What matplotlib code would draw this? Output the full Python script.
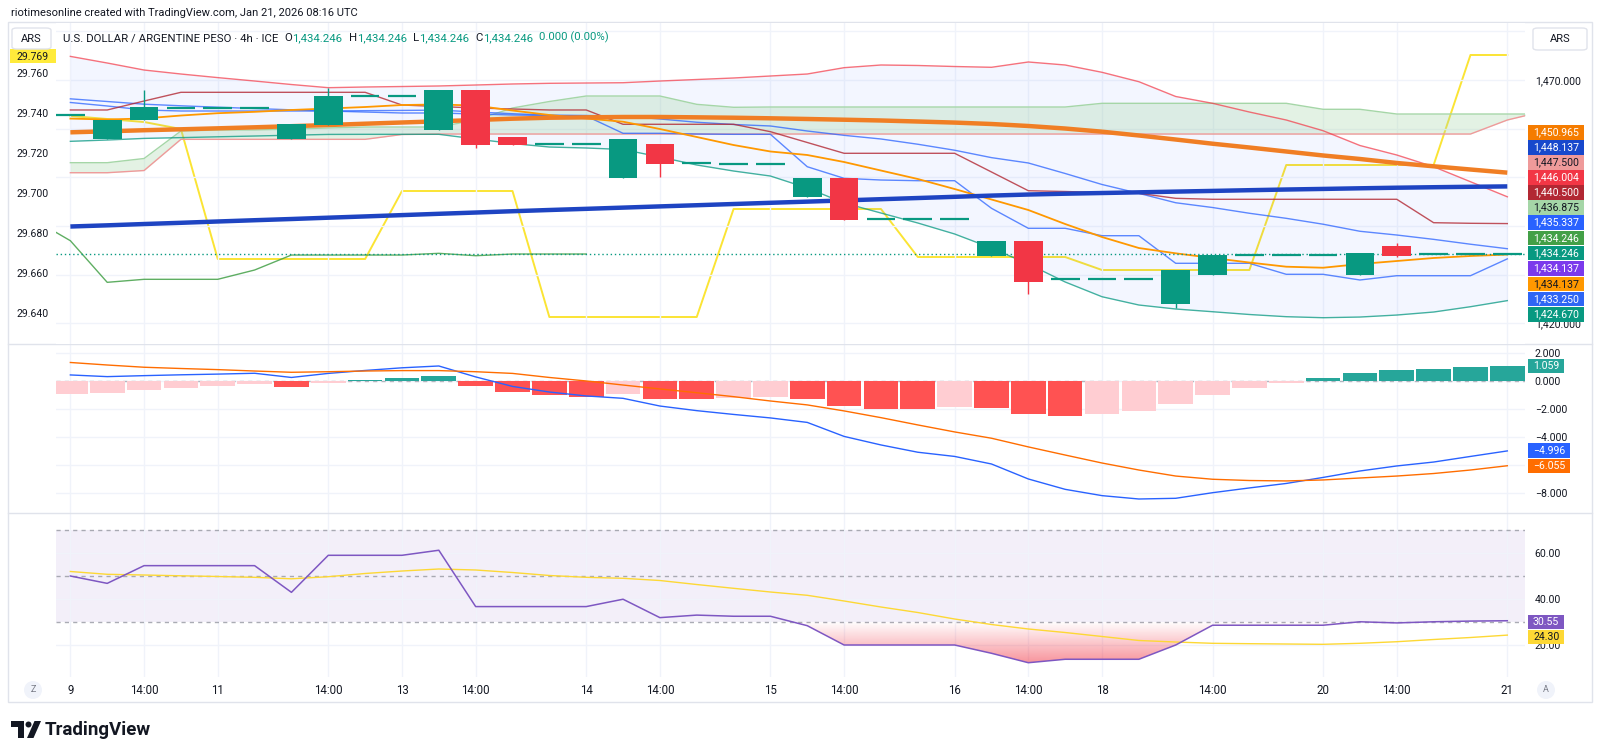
import numpy as np
import matplotlib
matplotlib.use("Agg")
import matplotlib.pyplot as plt
from matplotlib.patches import Rectangle, FancyBboxPatch, Ellipse, Polygon
from matplotlib.lines import Line2D
from matplotlib.ticker import FuncFormatter
import matplotlib.path as mpath
from matplotlib.colors import to_rgb

plt.rcParams['font.family'] = ['Roboto', 'DejaVu Sans']

# ---------------- data ----------------
bar_index = list(range(40))
time_tick_pos = [0, 2, 4, 7, 9, 11, 14, 16, 19, 21, 24, 26, 28, 31, 34, 36, 39]
time_tick_labels = ["9", "14:00", "11", "14:00", "13", "14:00", "14", "14:00", "15",
                    "14:00", "16", "14:00", "18", "14:00", "20", "14:00", "21"]

opens = [1462.87, 1457.81, 1461.72, 1464.31, 1464.31, 1464.31, 1457.81, 1460.75, 1466.71, 1466.71,
         1459.73, 1467.88, 1458.29, 1456.79, 1456.79, 1449.80, 1456.79, 1453.00, 1452.74, 1452.74,
         1445.96, 1449.86, 1441.38, 1441.38, 1441.38, 1433.90, 1436.98, 1429.05, 1429.05, 1429.05,
         1424.04, 1429.87, 1434.04, 1434.04, 1434.04, 1429.87, 1435.89, 1434.246, 1434.246, 1434.246]
highs = [1462.87, 1461.78, 1467.94, 1464.31, 1464.31, 1464.31, 1460.90, 1468.42, 1466.71, 1466.71,
         1467.88, 1467.88, 1458.29, 1456.79, 1456.79, 1457.88, 1456.79, 1453.00, 1452.74, 1452.74,
         1449.86, 1449.86, 1441.38, 1441.38, 1441.38, 1436.98, 1436.98, 1429.05, 1429.05, 1429.05,
         1430.96, 1434.04, 1434.04, 1434.04, 1434.04, 1434.39, 1436.57, 1434.246, 1434.246, 1434.246]
lows = [1462.87, 1457.81, 1461.72, 1464.31, 1464.31, 1464.31, 1457.81, 1460.75, 1466.71, 1466.71,
        1459.73, 1455.97, 1456.71, 1456.79, 1456.79, 1449.80, 1450.01, 1453.00, 1452.74, 1452.74,
        1445.96, 1441.30, 1441.38, 1441.38, 1441.38, 1433.90, 1426.03, 1429.05, 1429.05, 1429.05,
        1423.15, 1429.87, 1434.04, 1434.04, 1434.04, 1429.87, 1433.63, 1434.246, 1434.246, 1434.246]
closes = [1462.87, 1461.78, 1464.39, 1464.31, 1464.31, 1464.31, 1460.90, 1466.77, 1466.71, 1466.71,
          1467.88, 1456.64, 1456.71, 1456.79, 1456.79, 1457.88, 1452.68, 1453.00, 1452.74, 1452.74,
          1449.86, 1441.30, 1441.38, 1441.38, 1441.38, 1436.98, 1428.43, 1429.05, 1429.05, 1429.05,
          1430.96, 1434.04, 1434.04, 1434.04, 1434.04, 1434.39, 1433.90, 1434.246, 1434.246, 1434.246]

ma_long = [1459.25, 1459.46, 1459.68, 1459.87, 1460.07, 1460.28, 1460.51, 1460.75, 1461.02, 1461.27,
           1461.51, 1461.78, 1462.05, 1462.25, 1462.33, 1462.40, 1462.40, 1462.33, 1462.25, 1462.13,
           1461.99, 1461.84, 1461.68, 1461.47, 1461.25, 1460.96, 1460.55, 1460.03, 1459.38, 1458.60,
           1457.77, 1456.91, 1456.13, 1455.31, 1454.49, 1453.77, 1452.95, 1452.27, 1451.61, 1450.965]
ma_blue = [1439.90, 1440.14, 1440.41, 1440.66, 1440.93, 1441.19, 1441.44, 1441.71, 1441.97, 1442.24,
           1442.51, 1442.77, 1443.04, 1443.29, 1443.53, 1443.78, 1444.03, 1444.27, 1444.52, 1444.77,
           1445.01, 1445.26, 1445.51, 1445.75, 1446.00, 1446.25, 1446.47, 1446.64, 1446.78, 1446.92,
           1447.07, 1447.21, 1447.36, 1447.50, 1447.62, 1447.75, 1447.87, 1447.97, 1448.06, 1448.137]
ma_thin = [1462.07, 1461.88, 1462.10, 1462.70, 1463.18, 1463.46, 1463.84, 1464.14, 1464.45, 1464.86,
           1464.97, 1464.75, 1463.73, 1462.81, 1462.09, 1461.43, 1459.93, 1458.29, 1456.64, 1455.31,
           1454.59, 1453.15, 1451.40, 1449.66, 1447.60, 1445.45, 1443.29, 1440.41, 1437.74, 1435.48,
           1434.39, 1433.43, 1432.50, 1431.64, 1431.43, 1432.19, 1432.81, 1433.43, 1433.84, 1434.137]
bb_upper = [1474.85, 1473.49, 1472.05, 1471.23, 1470.49, 1469.79, 1469.07, 1468.42, 1468.56, 1468.66,
            1468.77, 1468.97, 1469.18, 1469.32, 1469.38, 1469.44, 1469.79, 1470.10, 1470.41, 1470.82,
            1471.23, 1472.53, 1473.08, 1472.98, 1472.77, 1472.61, 1473.70, 1473.08, 1471.58, 1469.65,
            1466.61, 1465.21, 1463.42, 1461.78, 1459.58, 1456.54, 1454.59, 1452.18, 1449.10, 1446.004]
bb_lower = [1457.40, 1457.67, 1458.00, 1458.16, 1458.33, 1458.49, 1458.66, 1458.82, 1458.84, 1458.84,
            1458.84, 1457.88, 1456.95, 1456.23, 1456.03, 1455.72, 1454.18, 1452.54, 1451.30, 1450.27,
            1447.81, 1444.73, 1442.67, 1440.62, 1438.36, 1435.48, 1432.19, 1428.50, 1425.47, 1423.77,
            1422.95, 1422.39, 1421.82, 1421.37, 1421.16, 1421.30, 1421.71, 1422.33, 1423.42, 1424.670]
bb_basis = [1466.13, 1465.58, 1465.03, 1464.70, 1464.41, 1464.14, 1463.87, 1463.62, 1463.70, 1463.75,
            1463.81, 1463.43, 1463.07, 1462.78, 1462.71, 1462.58, 1461.99, 1461.32, 1460.86, 1460.55,
            1459.52, 1458.63, 1457.88, 1456.80, 1455.57, 1454.05, 1452.95, 1450.79, 1448.53, 1446.71,
            1444.78, 1443.80, 1442.62, 1441.58, 1440.37, 1438.92, 1438.15, 1437.26, 1436.26, 1435.337]
tenkan = [1465.38, 1464.66, 1463.84, 1463.63, 1463.63, 1463.63, 1463.63, 1463.63, 1463.42, 1463.22,
          1463.22, 1463.01, 1462.81, 1462.70, 1462.60, 1459.05, 1459.05, 1458.90, 1458.84, 1458.84,
          1452.18, 1449.80, 1449.45, 1449.31, 1449.31, 1443.64, 1439.53, 1439.53, 1438.01, 1438.01,
          1432.34, 1432.34, 1432.34, 1430.08, 1430.08, 1428.91, 1429.79, 1429.79, 1429.79, 1433.25]
kijun = [1463.84, 1463.84, 1465.68, 1467.47, 1467.47, 1467.47, 1467.47, 1467.47, 1467.47, 1464.86,
         1464.55, 1464.25, 1464.04, 1463.84, 1463.84, 1460.90, 1460.90, 1460.90, 1460.90, 1459.38,
         1457.16, 1454.94, 1454.94, 1454.94, 1454.94, 1451.10, 1447.25, 1447.09, 1446.88, 1446.72,
         1445.69, 1445.49, 1445.49, 1445.49, 1445.49, 1445.49, 1445.49, 1440.68, 1440.56, 1440.50]
span_a = [1453.01, 1453.01, 1453.87, 1459.52, 1459.73, 1459.73, 1459.93, 1460.14, 1460.34, 1460.34,
          1460.34, 1461.78, 1464.25, 1465.58, 1466.71, 1466.71, 1466.71, 1465.00, 1464.39, 1464.45,
          1464.45, 1464.45, 1464.45, 1464.45, 1464.45, 1464.45, 1464.45, 1464.45, 1465.21, 1465.21,
          1465.21, 1465.21, 1465.21, 1465.21, 1463.98, 1463.98, 1463.01, 1463.01, 1463.01, 1463.01,
          1463.01]
span_b = [1450.95, 1450.95, 1451.40, 1457.81, 1457.81, 1457.81, 1457.81, 1457.81, 1457.81, 1458.80,
          1458.90, 1458.90, 1458.90, 1458.90, 1458.90, 1458.90, 1458.90, 1458.90, 1458.90, 1458.90,
          1458.90, 1458.90, 1458.90, 1458.90, 1458.90, 1458.90, 1458.90, 1458.90, 1458.90, 1458.90,
          1458.90, 1458.90, 1458.90, 1458.90, 1458.90, 1458.90, 1458.90, 1458.90, 1458.90, 1461.78,
          1463.60]
span_a_future_last = 1436.875
span_b_future_last = 1447.500
purple_last = 1434.137
chikou_shift = 25

# overlay on the left scale (yellow)
overlay = [29.7385, 29.737, 29.7355, 29.732, 29.667, 29.667, 29.667, 29.667, 29.667, 29.701,
           29.701, 29.701, 29.701, 29.638, 29.638, 29.638, 29.638, 29.638, 29.692, 29.692,
           29.692, 29.692, 29.692, 29.668, 29.668, 29.668, 29.668, 29.668, 29.6615, 29.6615,
           29.6615, 29.6615, 29.6615, 29.714, 29.714, 29.714, 29.714, 29.714, 29.769, 29.769]

macd = [0.43, 0.31, 0.38, 0.44, 0.49, 0.55, 0.25, 0.54, 0.75, 0.94,
        1.07, 0.29, -0.39, -0.79, -1.07, -1.24, -1.79, -2.12, -2.39, -2.64,
        -2.96, -3.96, -4.57, -5.09, -5.39, -5.93, -7.00, -7.74, -8.19, -8.43,
        -8.38, -7.98, -7.64, -7.32, -6.89, -6.43, -6.07, -5.79, -5.39, -4.996]
signal = [1.32, 1.14, 0.98, 0.89, 0.81, 0.71, 0.62, 0.66, 0.71, 0.74,
          0.74, 0.66, 0.54, 0.25, 0.00, -0.29, -0.57, -0.84, -1.12, -1.43,
          -1.71, -2.14, -2.62, -3.14, -3.64, -4.09, -4.71, -5.29, -5.86, -6.36,
          -6.79, -7.02, -7.11, -7.14, -7.07, -6.93, -6.79, -6.61, -6.36, -6.055]
hist = [-0.93, -0.88, -0.62, -0.48, -0.36, -0.24, -0.43, -0.12, 0.07, 0.19,
        0.34, -0.38, -0.76, -1.00, -1.12, -0.95, -1.26, -1.27, -1.19, -1.18,
        -1.29, -1.79, -2.00, -2.01, -1.83, -1.90, -2.36, -2.50, -2.36, -2.12,
        -1.64, -1.00, -0.52, -0.12, 0.24, 0.57, 0.76, 0.88, 1.02, 1.059]

rsi = [50.0, 46.8, 54.5, 54.5, 54.5, 54.5, 42.9, 59.0, 59.0, 59.0,
       61.2, 36.7, 36.7, 36.7, 36.7, 39.9, 31.9, 33.0, 32.5, 32.5,
       28.4, 20.0, 20.0, 20.0, 20.0, 16.4, 12.3, 13.8, 13.8, 13.8,
       20.0, 28.6, 28.6, 28.6, 28.6, 30.1, 29.6, 30.1, 30.4, 30.55]
rsi_ma = [51.96, 50.74, 50.43, 50.09, 49.78, 49.43, 48.78, 49.70, 51.09, 52.17,
          53.04, 52.61, 51.52, 50.22, 49.43, 49.00, 48.04, 46.30, 44.65, 43.04,
          41.61, 39.13, 36.52, 34.13, 31.30, 28.91, 26.96, 25.43, 23.70, 21.96,
          21.30, 20.74, 20.57, 20.43, 20.30, 20.74, 21.43, 22.39, 23.26, 24.30]

main_ticks = [1420, 1430, 1440, 1450, 1460, 1470, 1480]
main_ticks_hidden = [1430, 1440, 1450, 1460, 1480]   # covered by price tags / ARS box
left_ticks = [29.64, 29.66, 29.68, 29.70, 29.72, 29.74, 29.76]
macd_ticks = [-8, -6, -4, -2, 0, 2]
macd_ticks_hidden = [-6]
rsi_ticks = [20, 40, 60]

# ---------------- styling / layout ----------------
DARK = '#131722'
TEAL = '#089981'
RED = '#F23645'
GRID = '#F0F3FA'
W, H = 1600, 756

fig = plt.figure(figsize=(W / 100, H / 100), dpi=100)
fig.patch.set_facecolor('white')


def fx(x):
    return x / W


def fy(y):
    return 1 - y / H


PL, PR = 56, 1525


def pane(top, bottom, **kw):
    return fig.add_axes([fx(PL), fy(bottom), (PR - PL) / W, (bottom - top) / H], **kw)


ax = pane(23, 344)
axm = pane(344, 513, sharex=ax)
axr = pane(513, 677, sharex=ax)
axl = ax.twinx()
ax.set_zorder(2)
axl.set_zorder(1)
ax.patch.set_visible(False)
axl.patch.set_visible(True)
axl.patch.set_facecolor('white')

xs = np.array(bar_index, dtype=float)
o, hh, ll, c = map(np.array, (opens, highs, lows, closes))

# ---- main pane ----
ax.fill_between(xs, bb_lower, bb_upper, color='#2962FF', alpha=0.055, lw=0, zorder=1)
xc = np.arange(len(span_a), dtype=float)
sa, sb = np.array(span_a), np.array(span_b)
ax.fill_between(xc, sa, sb, where=sa >= sb, interpolate=True, color='#A5D6A7', alpha=0.3, lw=0, zorder=1.2)
ax.fill_between(xc, sa, sb, where=sa < sb, interpolate=True, color='#EF9A9A', alpha=0.3, lw=0, zorder=1.2)
ax.plot(xc, sa, color='#A5D6A7', lw=1, zorder=2)
ax.plot(xc, sb, color='#EF9A9A', lw=1, zorder=2)

ax.plot(xs, bb_upper, color=RED, lw=1, alpha=0.7, zorder=2)
ax.plot(xs, bb_lower, color=TEAL, lw=1, alpha=0.75, zorder=2)
ax.plot(xs, bb_basis, color='#2962FF', lw=1, alpha=0.75, zorder=2)
ax.plot(xs, tenkan, color='#2962FF', lw=1, alpha=0.75, zorder=2)
ax.plot(xs, kijun, color='#B22833', lw=1, alpha=0.8, zorder=2)
x_ch = xs[chikou_shift - 1:] - chikou_shift
ax.plot(x_ch, c[chikou_shift - 1:], color='#43A047', lw=1, alpha=0.85, zorder=2)
ax.plot(xs, ma_thin, color='#FF9800', lw=1.3, zorder=2.4)
ax.plot(xs, ma_long, color='#F07E24', lw=3.2, zorder=2.6, solid_capstyle='butt')
ax.plot(xs, ma_blue, color='#1E44C2', lw=3.2, zorder=2.6, solid_capstyle='butt')

flat = np.isclose(o, c)
nf = ~flat
cols = [TEAL if cc > oo else RED for oo, cc in zip(o[nf], c[nf])]
ax.vlines(xs[nf], ll[nf], hh[nf], colors=cols, lw=1, zorder=5)
ax.bar(xs[nf], np.abs(c - o)[nf], bottom=np.minimum(o, c)[nf], width=0.78, color=cols, lw=0, zorder=6)
ax.hlines(c[flat], xs[flat] - 0.39, xs[flat] + 0.39, colors=TEAL, lw=1.6, zorder=6)
ax.axhline(closes[-1], color=TEAL, lw=1, ls=(0, (1, 2)), zorder=4)

axl.plot(xs, overlay, color='#FBE434', lw=1.4, zorder=2)

ax.set_xlim(-0.39, 39.48)
ax.set_ylim(1415.76, 1481.71)
axl.set_ylim(29.6245, 29.785)

# ---- MACD pane ----
hcols = []
for i, v in enumerate(hist):
    rising = True if i == 0 else v > hist[i - 1]
    if v >= 0:
        hcols.append('#26A69A' if rising else '#B2DFDB')
    else:
        hcols.append('#FFCDD2' if rising else '#FF5252')
axm.axhline(0, color='#B2B5BE', lw=1, ls=(0, (3, 3)), zorder=1)
axm.bar(xs, hist, width=0.94, color=hcols, lw=0, zorder=2)
axm.plot(xs, macd, color='#2962FF', lw=1, zorder=3)
axm.plot(xs, signal, color='#FF6D00', lw=1, zorder=3)
axm.set_ylim(-9.43, 2.64)

# ---- RSI pane ----
axr.axhspan(30, 70, color='#7E57C2', alpha=0.09, lw=0, zorder=0.5)
for lvl in (70, 50, 30):
    axr.axhline(lvl, color='#9598A1', lw=1, ls=(0, (3, 3)), alpha=0.8, zorder=1)
r_arr = np.array(rsi)
coll = axr.fill_between(xs, r_arr, 30, where=r_arr < 30, interpolate=True, color='none', lw=0)
paths = coll.get_paths()
if len(paths):
    cp = mpath.Path.make_compound_path(*paths)
    grad = np.zeros((120, 2, 4))
    grad[..., :3] = to_rgb(RED)
    grad[..., 3] = np.linspace(0.6, 0.0, 120)[:, None]
    im = axr.imshow(grad, extent=[xs[0], xs[-1], 10, 30], origin='lower', aspect='auto',
                    interpolation='bilinear', zorder=1.5)
    im.set_clip_path(cp, axr.transData)
axr.plot(xs, rsi_ma, color='#FDD835', lw=1, zorder=2.5)
axr.plot(xs, rsi, color='#7E57C2', lw=1.1, zorder=3)
axr.set_ylim(6.09, 77.39)
axr.set_xlim(-0.39, 39.48)

# ---- axes formatting ----
for a in (ax, axm, axr, axl):
    for s in a.spines.values():
        s.set_visible(False)
for a, ticks in ((ax, main_ticks), (axm, macd_ticks), (axr, rsi_ticks)):
    a.yaxis.tick_right()
    a.set_yticks(ticks)
    a.set_xticks(time_tick_pos)
    a.grid(True, color=GRID, lw=1)
    a.set_axisbelow(True)
    a.tick_params(axis='both', length=0, labelsize=7.6, colors=DARK)
    a.tick_params(axis='y', pad=7)


def fmt_main(v, p):
    return "" if any(abs(v - t) < 1e-6 for t in main_ticks_hidden) else f"{v:,.3f}"


def fmt_macd(v, p):
    if any(abs(v - t) < 1e-6 for t in macd_ticks_hidden):
        return ""
    return f"{v:.3f}".replace('-', '\u2212')


ax.yaxis.set_major_formatter(FuncFormatter(fmt_main))
axm.yaxis.set_major_formatter(FuncFormatter(fmt_macd))
axr.yaxis.set_major_formatter(FuncFormatter(lambda v, p: f"{v:.2f}"))
ax.tick_params(axis='x', labelbottom=False)
axm.tick_params(axis='x', labelbottom=False)
axr.set_xticklabels(time_tick_labels)
axr.tick_params(axis='x', pad=5, labelsize=8.3)
axl.yaxis.tick_left()
axl.set_yticks(left_ticks)
axl.yaxis.set_major_formatter(FuncFormatter(lambda v, p: f"{v:.3f}"))
axl.tick_params(axis='y', length=0, labelsize=7.6, colors=DARK, pad=5)
axl.tick_params(axis='x', bottom=False, labelbottom=False)

# ---- frame and separators ----
fig.add_artist(Rectangle((fx(8), fy(702)), (1592 - 8) / W, (702 - 22) / H, transform=fig.transFigure,
                         fc='none', ec='#E0E3EB', lw=1, zorder=1))
for ysep in (344, 513):
    fig.add_artist(Line2D([fx(8), fx(1592)], [fy(ysep), fy(ysep)], transform=fig.transFigure,
                          color='#E0E3EB', lw=1, zorder=1))

# ---- texts ----
fig.text(fx(11), fy(13), "riotimesonline created with TradingView.com, Jan 21, 2026 08:16 UTC",
         fontsize=8, color=DARK, ha='left', va='center')

t0 = fig.text(fx(63), fy(38), "U.S. DOLLAR / ARGENTINE PESO \u00b7 4h \u00b7 ICE",
              fontsize=8.2, color=DARK, ha='left', va='center', zorder=8)
chg = closes[-1] - opens[-1]
pieces = [("O", DARK, 4.5), (f"{opens[-1]:,.3f}", TEAL, 0),
          ("H", DARK, 4.5), (f"{highs[-1]:,.3f}", TEAL, 0),
          ("L", DARK, 4.5), (f"{lows[-1]:,.3f}", TEAL, 0),
          ("C", DARK, 4.5), (f"{closes[-1]:,.3f}", TEAL, 0),
          (f"{chg:.3f} ({chg / opens[-1] * 100:.2f}%)", TEAL, 4.5)]
prev = t0
for s, col, gap in pieces:
    prev = ax.annotate(s, xy=(1, 0), xycoords=prev, xytext=(gap, 0), textcoords='offset points',
                       fontsize=8.2, color=col, ha='left', va='bottom', annotation_clip=False)

# yellow left-scale tag (partly under the ARS box)
fig.add_artist(Rectangle((fx(10), fy(63)), 46 / W, 14 / H, transform=fig.transFigure,
                         fc='#FFEB3B', ec='none', zorder=4))
fig.text(fx(33), fy(56.5), f"{overlay[-1]:.3f}", fontsize=7.6, color=DARK, ha='center', va='center', zorder=4.5)

for (x0, x1, y0, y1) in ((12, 51, 28, 49), (1533, 1587, 28, 50)):
    fig.add_artist(FancyBboxPatch((fx(x0), fy(y1)), (x1 - x0) / W, (y1 - y0) / H,
                                  boxstyle='round,pad=0,rounding_size=0.003', transform=fig.transFigure,
                                  fc='white', ec='#E0E3EB', lw=1, zorder=5))
    fig.text(fx((x0 + x1) / 2), fy((y0 + y1) / 2), "ARS", fontsize=8, color=DARK,
             ha='center', va='center', zorder=6)

# price tags on the right scale
tags = []


def tag(y_px, text, bg, fg='white'):
    t = fig.text(fx(1533), fy(y_px), text, ha='left', va='center', fontsize=7.6, color=fg, zorder=12)
    tags.append((t, y_px, bg))


def money(v):
    return f"{v:,.3f}"


tag(132.3, money(ma_long[-1]), '#F57C00')
tag(147.3, money(ma_blue[-1]), '#1848CC')
tag(162.7, money(span_b_future_last), '#EF9A9A', DARK)
tag(177.3, money(bb_upper[-1]), RED)
tag(192.7, money(kijun[-1]), '#B22833')
tag(207.7, money(span_a_future_last), '#A5D6A7', DARK)
tag(222.7, money(bb_basis[-1]), '#2962FF')
tag(238.0, money(closes[-1]), '#43A047')
tag(253.3, money(closes[-1]), TEAL)
tag(268.5, money(purple_last), '#7B3AEC')
tag(283.8, money(ma_thin[-1]), '#FF9800', DARK)
tag(299.1, money(tenkan[-1]), '#2F66F5')
tag(314.4, money(bb_lower[-1]), TEAL)
tag(366.0, f"{hist[-1]:.3f}", '#26A69A')
tag(450.7, f"{macd[-1]:.3f}".replace('-', '\u2212'), '#2962FF')
tag(466.3, f"{signal[-1]:.3f}".replace('-', '\u2212'), '#FF6D00')
tag(621.7, f"{rsi[-1]:.2f}", '#7E57C2')
tag(636.9, f"{rsi_ma[-1]:.2f}", '#FDD835', DARK)

fig.canvas.draw()
rend = fig.canvas.get_renderer()
for t, y_px, bg in tags:
    bb = t.get_window_extent(rend)
    x_right = bb.x1 + 5
    fig.add_artist(Rectangle((fx(1527.5), fy(y_px + 7.2)), (x_right - 1527.5) / W, 14.4 / H,
                             transform=fig.transFigure, fc=bg, ec='none', zorder=11))

# small round buttons
for (cx, cy, s) in ((33, 690, "Z"), (1546, 690, "A")):
    fig.add_artist(Ellipse((fx(cx), fy(cy)), 18 / W, 18 / H, transform=fig.transFigure,
                           fc='#F0F3FA', ec='none', zorder=3))
    fig.text(fx(cx), fy(cy), s, fontsize=6.5, color='#787B86', ha='center', va='center', zorder=4)

# TradingView logo
logo_T = [(11, 721), (24, 721), (24, 738), (18, 738), (18, 727), (11, 727)]
fig.add_artist(Polygon([(fx(x), fy(y)) for x, y in logo_T], closed=True, transform=fig.transFigure,
                       fc=DARK, ec='none'))
fig.add_artist(Ellipse((fx(28.5), fy(724.5)), 6 / W, 6 / H, transform=fig.transFigure, fc=DARK, ec='none'))
logo_V = [(27, 738), (33.5, 738), (41, 721), (34.5, 721)]
fig.add_artist(Polygon([(fx(x), fy(y)) for x, y in logo_V], closed=True, transform=fig.transFigure,
                       fc=DARK, ec='none'))
fig.text(fx(45), fy(730), "TradingView", fontsize=13.5, fontweight='bold', color=DARK, ha='left', va='center')

fig.savefig("out.png", dpi=100, facecolor='white')
